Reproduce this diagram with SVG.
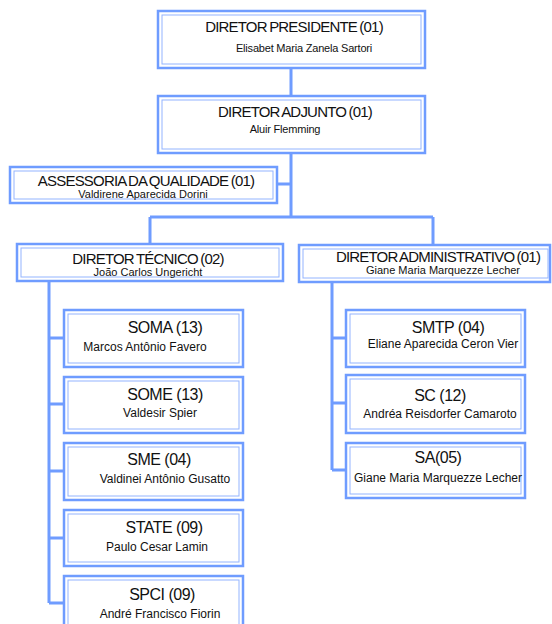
<svg xmlns="http://www.w3.org/2000/svg" width="552" height="624" viewBox="0 0 552 624">
<style>
.o{fill:#fff;stroke:#6f9cff;stroke-width:2.5}
.i{fill:none;stroke:#93b4ff;stroke-width:1}
.c{fill:none;stroke:#6f9cff;stroke-width:3}
text{font-family:"Liberation Sans",Arial,sans-serif;fill:#111;text-anchor:middle}
.t{font-size:15px;letter-spacing:-0.8px;word-spacing:-1px}
.d{font-size:16px;letter-spacing:-0.5px}
.s{font-size:11px}
.n{font-size:12px}
</style>
<rect width="552" height="624" fill="#fff"/>
<g id="connectors">
<path class="c" d="M291 68V96M291 153V217M277 184H291M150 217H433M150 217V244M433 217V245"/>
<path class="c" d="M49 281V603M49 338H64M49 404H64M49 471H64M49 538H64M49 603H64"/>
<path class="c" d="M332 282V470M332 338H346M332 403H346M332 470H346"/>
</g>
<g id="pres"><rect class="o" x="158" y="11" width="267" height="57"/><rect class="i" x="162" y="15" width="259" height="49"/>
<text class="t" x="294" y="32">DIRETOR PRESIDENTE (01)</text><text class="s" x="304" y="52" letter-spacing="-0.2">Elisabet Maria Zanela Sartori</text></g>
<g id="adjunto"><rect class="o" x="158" y="96" width="267" height="57"/><rect class="i" x="162" y="100" width="259" height="49"/>
<text class="t" x="295" y="117">DIRETOR ADJUNTO (01)</text><text class="s" x="285" y="133" letter-spacing="-0.2">Aluir Flemming</text></g>
<g id="assessoria"><rect class="o" x="10" y="167" width="267" height="36"/><rect class="i" x="14" y="171" width="259" height="28"/>
<text class="t" x="146" y="186">ASSESSORIA DA QUALIDADE (01)</text><text class="s" x="143" y="198">Valdirene Aparecida Dorini</text></g>
<g id="tecnico"><rect class="o" x="17" y="244" width="266" height="37"/><rect class="i" x="21" y="248" width="258" height="29"/>
<text class="t" x="148" y="264">DIRETOR TÉCNICO (02)</text><text class="s" x="148" y="276">João Carlos Ungericht</text></g>
<g id="administrativo"><rect class="o" x="299" y="245" width="251" height="37"/><rect class="i" x="303" y="249" width="245" height="29"/>
<text class="t" x="438" y="262">DIRETOR ADMINISTRATIVO (01)</text><text class="s" x="443" y="274">Giane Maria Marquezze Lecher</text></g>
<g id="soma"><rect class="o" x="64" y="310" width="179" height="57"/><rect class="i" x="68" y="314" width="171" height="49"/>
<text class="d" x="165" y="333">SOMA (13)</text><text class="n" x="145" y="351">Marcos Antônio Favero</text></g>
<g id="some"><rect class="o" x="64" y="377" width="179" height="56"/><rect class="i" x="68" y="381" width="171" height="48"/>
<text class="d" x="165" y="400">SOME (13)</text><text class="n" x="160" y="417">Valdesir Spier</text></g>
<g id="sme"><rect class="o" x="64" y="443" width="179" height="57"/><rect class="i" x="68" y="447" width="171" height="49"/>
<text class="d" x="159" y="465">SME (04)</text><text class="n" x="165" y="483">Valdinei Antônio Gusatto</text></g>
<g id="state"><rect class="o" x="64" y="510" width="179" height="56"/><rect class="i" x="68" y="514" width="171" height="48"/>
<text class="d" x="164" y="533">STATE (09)</text><text class="n" x="157" y="551">Paulo Cesar Lamin</text></g>
<g id="spci"><rect class="o" x="64" y="576" width="179" height="57"/><rect class="i" x="68" y="580" width="171" height="49"/>
<text class="d" x="162" y="600">SPCI (09)</text><text class="n" x="160" y="618">André Francisco Fiorin</text></g>
<g id="smtp"><rect class="o" x="346" y="310" width="179" height="57"/><rect class="i" x="350" y="314" width="171" height="49"/>
<text class="d" x="448" y="333">SMTP (04)</text><text class="n" x="443" y="348">Eliane Aparecida Ceron Vier</text></g>
<g id="sc"><rect class="o" x="346" y="375" width="179" height="58"/><rect class="i" x="350" y="379" width="171" height="50"/>
<text class="d" x="440" y="401">SC (12)</text><text class="n" x="440" y="418">Andréa Reisdorfer Camaroto</text></g>
<g id="sa"><rect class="o" x="346" y="443" width="179" height="55"/><rect class="i" x="350" y="447" width="171" height="47"/>
<text class="d" x="438" y="463">SA(05)</text><text class="n" x="438" y="482">Giane Maria Marquezze Lecher</text></g>
</svg>
